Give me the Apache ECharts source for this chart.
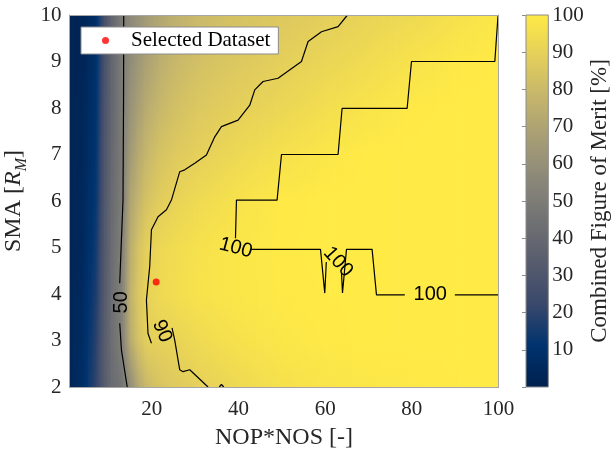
<!DOCTYPE html>
<html><head><meta charset="utf-8">
<script src="https://cdn.jsdelivr.net/npm/echarts@6/dist/echarts.min.js"></script>
<style>html,body{margin:0;padding:0;background:#fff}#c{width:613px;height:451px}</style>
</head><body><div id="c"></div>
<script>
// ---- data ----
const heatX = [1, 4, 7, 9, 11, 13, 15, 17, 19, 22, 26, 30, 35, 40, 50, 60, 70, 80, 90, 100];
const heatY = [2, 3, 4, 5, 6, 7, 8, 9, 10];
const fomY2  = [3, 8, 20, 33, 42, 45, 58, 72, 80, 84.5, 87, 89, 91, 93, 96, 97.5, 98.5, 99.3, 99.7, 100];
const fomY3  = [3, 7, 18, 33, 44, 51, 73, 84, 89, 89.7, 91, 93, 95, 96.5, 98.5, 99.5, 100, 100, 100, 100];
const fomY4  = [3, 6, 16, 32, 44, 52, 76, 86, 90.5, 93, 95, 96.5, 97.5, 98.5, 99.5, 99.8, 99.9, 100, 100, 100];
const fomY5  = [2, 5, 14, 31, 43, 50.5, 74, 84, 89.5, 92.5, 94.5, 96, 97.5, 98.5, 99.7, 100, 100, 100, 100, 100];
const fomY6  = [2, 5, 12, 30, 42, 49.5, 70, 78, 84, 88, 91, 93, 95, 97, 99.5, 100, 100, 100, 100, 100];
const fomY7  = [2, 4, 11, 29, 41, 49, 65, 73, 79, 84, 87, 89, 91, 93, 96, 98.5, 100, 100, 100, 100];
const fomY8  = [2, 4, 10, 28, 40, 49, 61, 68, 74, 79, 83, 85.5, 87.5, 89.3, 92, 95, 97.5, 99.5, 100, 100];
const fomY9  = [2, 3, 9, 27, 40, 49, 58, 64, 69, 75, 79.5, 82, 84.5, 86, 89, 91.5, 94, 97, 99, 100];
const fomY10 = [2, 3, 8, 26, 40, 49, 56, 61, 66, 71, 76, 79, 81.5, 83.5, 86, 88.5, 91, 93, 96, 99];
const fomRows = [fomY2, fomY3, fomY4, fomY5, fomY6, fomY7, fomY8, fomY9, fomY10];

const contour50A = [[13.51,10],[13.47,8.17],[13.35,6.02],[12.98,5.16],[12.59,4.23]];
const contour50B = [[12.59,3.37],[12.98,2.80],[13.35,2.58],[14.13,2.11],[14.32,2.0]];
const contour90A = [[65.15,10],[62.98,9.75],[59.15,9.64],[56.06,9.43],[54.53,9.0],[49.13,8.64],[45.67,8.57],[43.75,8.39],[42.6,8.06],[39.9,7.74],[36.06,7.60],[34.52,7.38],[32.6,6.99],[29.9,6.81],[27.59,6.67],[26.44,6.63],[24.52,6.02],[23.37,5.81],[21.43,5.66],[19.91,5.38],[19.51,4.59],[18.75,3.87],[19.12,3.15],[19.91,2.94]];
const contour90B = [[24.66,3.27],[25.28,3.01],[26.44,2.37],[27.2,2.33],[28.75,2.37],[32.97,2.0]];
const contour90C = [[35.56,2.0],[36.06,2.054],[36.6,2.0]];
const contour100A = [[99.9,10],[99.15,9.0],[79.92,9.0],[78.91,7.99],[63.9,7.99],[62.98,7.0],[49.92,7.0],[48.9,6.02],[39.53,6.02],[39.3,5.2]];
const contour100B = [[42.99,4.96],[58.92,4.96],[59.91,4.02],[60.26,4.69]];
const contour100C = [[63.77,4.45],[64.0,4.02],[64.92,4.96],[70.83,4.96],[71.84,3.98],[78.38,3.98]];
const contour100D = [[89.92,3.98],[100,3.98]];
const contourSegments = [contour50A, contour50B, contour90A, contour90B, contour90C, contour100A, contour100B, contour100C, contour100D];

const contourLabelText = ['50', '90', '100', '100', '100'];
const contourLabelX = [12.98, 22.35, 39.37, 62.98, 84.26];
const contourLabelY = [3.82, 3.20, 4.99, 4.69, 3.98];
const contourLabelAngle = [90, -66, -15, -48, 0];

const selectedDataset = [[21, 4.26]];
const xTickValues = [20, 40, 60, 80, 100];
const cividis = ['#00204D','#00336F','#39486B','#575C6D','#707173','#8A8779','#A69D75','#C4B56C','#E4CF5B','#FFEA46'];

// ---- helpers ----
const rgbStops = cividis.map(h => [parseInt(h.slice(1,3),16), parseInt(h.slice(3,5),16), parseInt(h.slice(5,7),16)]);
function cmap(v) {
  const n = rgbStops.length;
  let t = Math.max(0, Math.min(1, v / 100)) * (n - 1);
  let i = Math.min(n - 2, Math.floor(t));
  const f = t - i;
  const a = rgbStops[i], b = rgbStops[i + 1];
  return 'rgb(' + Math.round(a[0] + (b[0]-a[0])*f) + ',' + Math.round(a[1] + (b[1]-a[1])*f) + ',' + Math.round(a[2] + (b[2]-a[2])*f) + ')';
}
const cells = [];
for (let j = 0; j < heatY.length - 1; j++) {
  for (let i = 0; i < heatX.length - 1; i++) {
    cells.push([heatX[i], heatY[j], heatX[i+1], heatY[j+1], fomRows[j][i], fomRows[j][i+1], fomRows[j+1][i], fomRows[j+1][i+1]]);
  }
}
const labelData = contourLabelText.map((t, k) => [contourLabelX[k], contourLabelY[k], contourLabelAngle[k], t]);

const serif = 'Liberation Serif';
const txt = '#262626';
const chart = echarts.init(document.getElementById('c'), null, {renderer: 'canvas'});

const series = [];
series.push({
  type: 'custom', xAxisIndex: 0, yAxisIndex: 0, z: 1, silent: true, clip: true,
  data: cells, encode: {x: [0, 2], y: [1, 3]},
  renderItem: function (params, api) {
    const p0 = api.coord([api.value(0), api.value(1)]);
    const p1 = api.coord([api.value(2), api.value(3)]);
    const v00 = api.value(4), v10 = api.value(5), v01 = api.value(6), v11 = api.value(7);
    const w = p1[0] - p0[0], h = p0[1] - p1[1];
    const n = Math.max(1, Math.ceil(w / 2));
    const children = [];
    for (let k = 0; k < n; k++) {
      const tm = (k + 0.5) / n;
      const vb = v00 + (v10 - v00) * tm, vt = v01 + (v11 - v01) * tm;
      const stops = [];
      for (let s = 0; s <= 4; s++) stops.push({offset: s / 4, color: cmap(vb + (vt - vb) * s / 4)});
      children.push({type: 'rect', shape: {x: p0[0] + w * k / n, y: p1[1], width: w / n + 0.8, height: h + 0.8},
        style: {fill: {type: 'linear', x: 0, y: 1, x2: 0, y2: 0, colorStops: stops}}});
    }
    return {type: 'group', children: children};
  }
});
contourSegments.forEach(seg => series.push({
  type: 'line', xAxisIndex: 0, yAxisIndex: 0, data: seg, symbol: 'none', z: 3, silent: true,
  lineStyle: {color: '#000', width: 1.2}, clip: true
}));
series.push({
  type: 'custom', xAxisIndex: 0, yAxisIndex: 0, z: 4, silent: true, data: labelData,
  renderItem: function (params, api) {
    const p = api.coord([api.value(0), api.value(1)]);
    return {type: 'text', x: p[0], y: p[1], rotation: api.value(2) * Math.PI / 180,
      style: {text: labelData[params.dataIndex][3], fontFamily: 'Liberation Sans', fontSize: 20, fill: '#000', align: 'center', verticalAlign: 'middle'}};
  }
});
series.push({
  name: 'Selected Dataset', type: 'scatter', xAxisIndex: 0, yAxisIndex: 0, z: 5,
  data: selectedDataset, symbol: 'circle', symbolSize: 7, itemStyle: {color: '#ff0000'}
});
series.push({
  type: 'custom', xAxisIndex: 1, yAxisIndex: 1, z: 1, silent: true, data: [[0, 0, 1, 100]],
  renderItem: function (params, api) {
    const p0 = api.coord([api.value(0), api.value(1)]);
    const p1 = api.coord([api.value(2), api.value(3)]);
    const stops = cividis.map((c, i) => ({offset: i / (cividis.length - 1), color: c}));
    return {type: 'rect', shape: {x: p0[0], y: p1[1], width: p1[0] - p0[0], height: p0[1] - p1[1]},
      style: {fill: {type: 'linear', x: 0, y: 1, x2: 0, y2: 0, colorStops: stops}, stroke: '#8c8c8c', lineWidth: 1}};
  }
});

const borderColor = '#a6a6a6';
chart.setOption({
  animation: false,
  grid: [
    {left: 69.5, top: 15, width: 429, height: 372, outerBoundsMode: 'none', containLabel: false},
    {left: 526, top: 15, width: 22.3, height: 372, outerBoundsMode: 'none', containLabel: false}
  ],
  legend: {
    data: ['Selected Dataset'], left: 81, top: 27, orient: 'horizontal',
    backgroundColor: '#fff', borderColor: '#8c8c8c', borderWidth: 1, borderRadius: 0,
    padding: [3, 8, 3, 21], itemWidth: 41, itemHeight: 7,
    textStyle: {fontFamily: serif, fontSize: 21, color: '#000'}
  },
  xAxis: [
    {type: 'value', gridIndex: 0, min: 1, max: 100, position: 'bottom', z: 10,
     axisLine: {show: true, lineStyle: {color: borderColor}}, axisTick: {show: false}, splitLine: {show: false},
     axisLabel: {customValues: xTickValues, fontFamily: serif, fontSize: 21, color: txt, margin: 12},
     name: 'NOP*NOS [-]', nameLocation: 'middle', nameGap: 39,
     nameTextStyle: {fontFamily: serif, fontSize: 24, color: txt}},
    {type: 'value', gridIndex: 1, min: 0, max: 1, show: false},
    {type: 'value', gridIndex: 0, min: 1, max: 100, position: 'top', z: 10,
     axisLine: {show: true, lineStyle: {color: borderColor}}, axisTick: {show: false}, axisLabel: {show: false}, splitLine: {show: false}}
  ],
  yAxis: [
    {type: 'value', gridIndex: 0, min: 2, max: 10, interval: 1, position: 'left', z: 10,
     axisLine: {show: true, lineStyle: {color: borderColor}}, axisTick: {show: false}, splitLine: {show: false},
     axisLabel: {fontFamily: serif, fontSize: 21, color: txt, margin: 8},
     name: '{a|SMA [}{i|R}{s|M}{a|]}', nameLocation: 'middle', nameGap: 30, nameRotate: 90,
     nameTextStyle: {fontFamily: serif, fontSize: 24, color: txt,
       rich: {a: {fontFamily: serif, fontSize: 24, color: txt, lineHeight: 32},
              i: {fontFamily: serif, fontSize: 24, fontStyle: 'italic', color: txt, lineHeight: 32},
              s: {fontFamily: serif, fontSize: 16, fontStyle: 'italic', color: txt, verticalAlign: 'bottom', lineHeight: 32}}}},
    {type: 'value', gridIndex: 1, min: 0, max: 100, interval: 10, position: 'right', z: 10,
     axisLine: {show: false}, splitLine: {show: false},
     axisTick: {show: true, inside: true, length: 4, lineStyle: {color: '#8c8c8c'}},
     axisLabel: {fontFamily: serif, fontSize: 21, color: txt, margin: 4, formatter: v => v === 0 ? '' : String(v)},
     name: 'Combined Figure of Merit [%]', nameLocation: 'middle', nameGap: 40, nameRotate: 90,
     nameTextStyle: {fontFamily: serif, fontSize: 23, color: txt}},
    {type: 'value', gridIndex: 0, min: 2, max: 10, position: 'right', z: 10,
     axisLine: {show: true, lineStyle: {color: borderColor}}, axisTick: {show: false}, axisLabel: {show: false}, splitLine: {show: false}}
  ],
  series: series
});
</script></body></html>
